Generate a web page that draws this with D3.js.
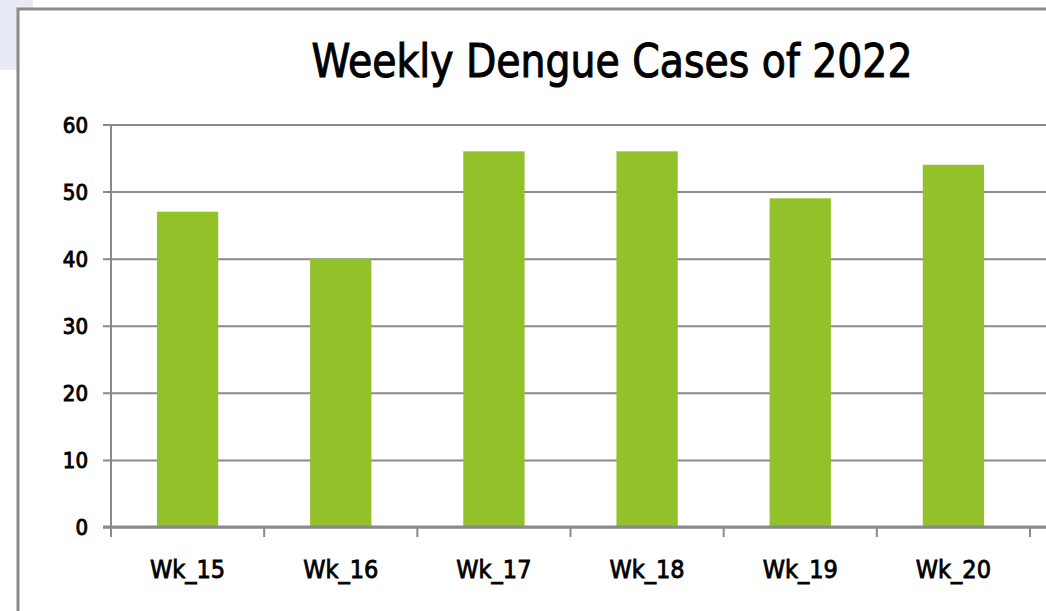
<!DOCTYPE html>
<html>
<head>
<meta charset="utf-8">
<script src="https://cdn.jsdelivr.net/npm/d3@7"></script>
<style>
  body { margin: 0; background: #fff; }
  text { font-family: "DejaVu Sans Condensed", "DejaVu Sans", sans-serif; fill: #000; stroke: #000; stroke-width: 0.9px; }
</style>
</head>
<body>
<div id="chart"></div>
<script>
// data
const weeks = ["Wk_15", "Wk_16", "Wk_17", "Wk_18", "Wk_19", "Wk_20"];
const cases = [47, 40, 56, 56, 49, 54];
const yTicks = [0, 10, 20, 30, 40, 50, 60];

const W = 1046, H = 611;
const margin = {top: 124.5, right: 16, bottom: 84, left: 111};
const plotRight = 1030;

const svg = d3.select("#chart")
  .append("svg")
  .attr("width", W)
  .attr("height", H);

// pale block at top-left corner, behind the frame
svg.append("rect")
  .attr("x", 0).attr("y", 0)
  .attr("width", 33).attr("height", 70)
  .attr("fill", "#e8ebf5");

svg.append("rect")
  .attr("x", 18).attr("y", 9)
  .attr("width", W).attr("height", H)
  .attr("fill", "#fff")
  .attr("stroke", "#8a8a8a")
  .attr("stroke-width", 3);

const x = d3.scaleBand()
  .domain(weeks)
  .range([margin.left, plotRight])
  .paddingInner(0.6)
  .paddingOuter(0.3);

const y = d3.scaleLinear()
  .domain([0, 60])
  .range([527, margin.top]);

// gridlines + y labels
const yAxis = svg.append("g")
  .attr("transform", `translate(${margin.left},0)`)
  .call(d3.axisLeft(y).tickValues(yTicks).tickSize(-(W - margin.left)).tickSizeOuter(0));
yAxis.select(".domain").remove();
yAxis.selectAll(".tick line")
  .attr("x1", -8)
  .attr("stroke", "#8a8a8a")
  .attr("stroke-width", 2);
yAxis.selectAll(".tick text")
  .attr("x", -23)
  .attr("dy", "0.36em")
  .style("font-size", "22px");

// bars
svg.selectAll(".bar")
  .data(cases)
  .join("rect")
  .attr("class", "bar")
  .attr("x", (d, i) => x(weeks[i]))
  .attr("width", x.bandwidth())
  .attr("y", d => y(d))
  .attr("height", d => y(0) - y(d))
  .attr("fill", "#92c12a");

// vertical axis line
svg.append("line")
  .attr("x1", margin.left).attr("x2", margin.left)
  .attr("y1", y(60)).attr("y2", 537)
  .attr("stroke", "#8a8a8a")
  .attr("stroke-width", 2);

// x axis with category dividers
const step = (plotRight - margin.left) / weeks.length;
const xAxis = svg.append("g")
  .attr("transform", `translate(0,${y(0)})`)
  .call(d3.axisBottom(x).tickSize(0).tickPadding(33));
xAxis.select(".domain")
  .attr("d", `M${margin.left - 8},0H${W}`)
  .attr("stroke", "#8a8a8a")
  .attr("stroke-width", 3);
xAxis.selectAll(".tick text")
  .style("font-size", "25px")
  .style("stroke-width", "0.8px");

xAxis.selectAll(".divider")
  .data(d3.range(weeks.length + 1))
  .join("line")
  .attr("class", "divider")
  .attr("x1", i => margin.left + i * step)
  .attr("x2", i => margin.left + i * step)
  .attr("y1", 0).attr("y2", 10)
  .attr("stroke", "#8a8a8a")
  .attr("stroke-width", 2);

// title
svg.append("text")
  .attr("x", 612)
  .attr("y", 77)
  .attr("text-anchor", "middle")
  .attr("textLength", 601)
  .attr("lengthAdjust", "spacingAndGlyphs")
  .style("font-size", "47px")
  .style("stroke-width", "1px")
  .text("Weekly Dengue Cases of 2022");
</script>
</body>
</html>
